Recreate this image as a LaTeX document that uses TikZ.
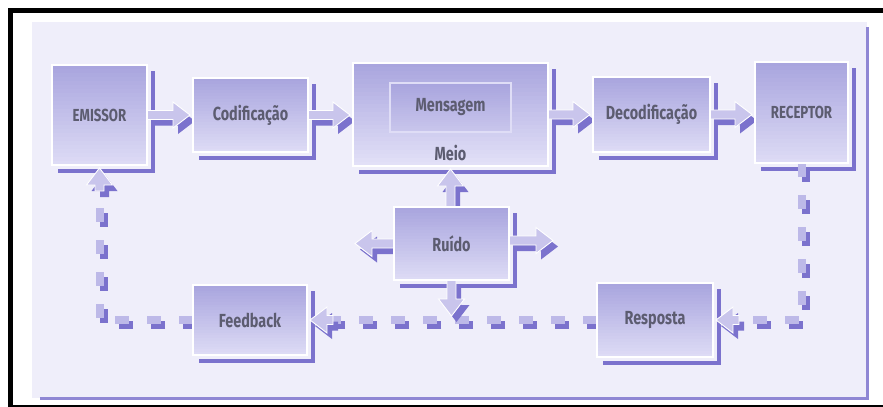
\documentclass[tikz,border=0pt]{standalone}
\usepackage{fontspec}
\newfontfamily\labfont{Fira Sans}[FakeStretch=0.76]
\usetikzlibrary{calc}
\definecolor{panelc}{HTML}{EFEEFA}
\definecolor{boxtop}{HTML}{A9A5DE}
\definecolor{boxbot}{HTML}{DFDDF6}
\definecolor{shad}{HTML}{7B72CD}
\definecolor{arrowc}{HTML}{C9C5EC}
\definecolor{dashc}{HTML}{BDB9E8}
\definecolor{txt}{HTML}{5C5C70}
\tikzset{
  slot/.style={rectangle, inner sep=0pt, outer sep=0pt},
  bands/.style={path picture={
    \foreach \i in {0,...,24}{
      \pgfmathsetmacro\fa{\i/25}
      \pgfmathsetmacro\fb{(\i+1)/25+0.01}
      \pgfmathsetmacro\pc{\i*4*#1}
      \fill[boxbot!\pc!boxtop]
        ($(path picture bounding box.north west)!\fa!(path picture bounding box.south west)$)
        rectangle
        ($(path picture bounding box.north east)!\fb!(path picture bounding box.south east)$);
    }}},
  box/.style={rectangle, bands=1, draw=white,
    line width=1.2pt, inner sep=0pt, outer sep=0pt, text=txt,
    font=\labfont\bfseries\fontsize{19}{19}\selectfont},
  capsbox/.style={box, font=\labfont\bfseries\fontsize{17.5}{17.5}\selectfont},
  lbl/.style={inner sep=0pt, text=txt, font=\labfont\bfseries\fontsize{19}{19}\selectfont},
  shadline/.style={draw=shad, line width=4.5bp},
  arrfill/.style={fill=arrowc, draw=white, line width=0.9pt, line join=miter},
  arrshad/.style={fill=shad},
  dashfill/.style={draw=dashc, line width=8bp, dash pattern=on 14bp off 18bp},
  dashshad/.style={draw=shad, line width=8bp, dash pattern=on 14bp off 18bp},
}
% block arrow: #1 style, #2 start, #3 end, #4 offset
\newcommand\blockarrow[4]{%
  \coordinate (aA) at (#2);
  \coordinate (aB) at ($(#3)!3bp!(aA)$);
  \coordinate (aH) at ($(aB)!17bp!(aA)$);
  \path[#1] ($(aA)!4.5bp!90:(aB)+#4$) -- ($(aH)!4.5bp!90:(aB)+#4$)
    -- ($(aH)!13bp!90:(aB)+#4$) -- ($(aB)+#4$) -- ($(aH)!13bp!-90:(aB)+#4$)
    -- ($(aH)!4.5bp!-90:(aB)+#4$) -- ($(aA)!4.5bp!-90:(aB)+#4$) -- cycle;
}
\newcommand\fullarrow[2]{%
  \blockarrow{arrshad}{#1}{#2}{(5,6)}
  \blockarrow{arrfill}{#1}{#2}{(0,0)}
}
\begin{document}
\begin{tikzpicture}[x=1bp,y=-1bp]
\useasboundingbox (0,0) rectangle (883,406.6);
% panel
\fill[white] (-20,-20) rectangle (903,428);
\fill[panelc] (32,22) rectangle (867,398);
% slots of the boxes (positions only)
\path node[slot, minimum width=95bp, minimum height=100bp] (em) at (99.5,115) {}
      node[slot, minimum width=115bp, minimum height=74bp] (cod) at (250.5,115) {}
      node[slot, minimum width=195bp, minimum height=103bp] (meio) at (450.5,114.5) {}
      node[slot, minimum width=117bp, minimum height=75bp] (dec) at (651.5,114.5) {}
      node[slot, minimum width=93bp, minimum height=101bp] (rec) at (801.5,112.5) {}
      node[slot, minimum width=115bp, minimum height=73bp] (ru) at (451.5,243.5) {}
      node[slot, minimum width=114bp, minimum height=70bp] (fb) at (250,320) {}
      node[slot, minimum width=116bp, minimum height=74bp] (res) at (655,320) {};
% box shadows
\foreach \b in {em,cod,meio,dec,rec,ru,fb,res}{
  \draw[shadline] ($(\b.south west)+(6,6)$) -| ($(\b.north east)+(6,6)$);
}
% dashed feedback path
\coordinate (c1) at (rec.south |- res.east);
\coordinate (h1) at ($(res.east)+(26,0)$);
\coordinate (h2) at ($(fb.east)+(26,0)$);
\coordinate (c3) at (em.south |- fb.west);
\coordinate (h3) at ($(em.south)+(0,26)$);
\draw[dashshad] ($(rec.south)+(4,5)$) -- ($(c1)+(4,5)$) -- ($(h1)+(4,5)$);
\draw[dashshad] ($(res.west)+(4,5)$) -- ($(h2)+(4,5)$);
\draw[dashshad] ($(fb.west)+(4,5)$) -- ($(c3)+(4,5)$) -- ($(h3)+(4,5)$);
\draw[dashfill] (rec.south) -- (c1) -- (h1);
\draw[dashfill] (res.west) -- (h2);
\draw[dashfill] (fb.west) -- (c3) -- (h3);
% block arrows
\fullarrow{em.east}{cod.west}
\fullarrow{cod.east}{meio.west |- cod.east}
\fullarrow{meio.east |- dec.west}{dec.west}
\fullarrow{dec.east}{rec.west |- dec.east}
\fullarrow{ru.north -| meio.south}{meio.south}
\fullarrow{ru.west}{$(ru.west)+(-42,0)$}
\fullarrow{$(ru.east)+(0,-3)$}{$(ru.east)+(47,-3)$}
\fullarrow{ru.south}{$(ru.south)+(0,39)$}
\fullarrow{h1}{res.east}
\fullarrow{h2}{fb.east}
\fullarrow{h3}{em.south}
% visible boxes
\node[capsbox, minimum width=95bp, minimum height=100bp] (emv) at (em) {EMISSOR};
\node[box, minimum width=115bp, minimum height=74bp] (codv) at (cod) {Codificação};
\node[box, minimum width=195bp, minimum height=103bp, bands=1.1] (meiov) at (meio) {};
\node[box, minimum width=121bp, minimum height=49bp, draw=boxbot, line width=1.5pt, bands=0.6] (msg) at (450.5,107.5) {Mensagem};
\node[lbl] (meiol) at (450.5,153) {Meio};
\node[box, minimum width=117bp, minimum height=75bp] (decv) at (dec) {Decodificação};
\node[capsbox, minimum width=93bp, minimum height=101bp] (recv) at (rec) {RECEPTOR};
\node[box, minimum width=115bp, minimum height=73bp] (ruv) at (ru) {Ruído};
\node[box, minimum width=114bp, minimum height=70bp] (fbv) at (fb) {Feedback};
\node[box, minimum width=116bp, minimum height=74bp] (resv) at (res) {Resposta};
% frame on top
\draw[shad!85!white, line width=3bp] (867,27) -- (867,398) -- (40,398);
\fill[black] (8,8) rectangle (903,13);
\fill[black] (8,8) rectangle (13,428);
\fill[black] (8,405) rectangle (903,428);
\end{tikzpicture}
\end{document}
